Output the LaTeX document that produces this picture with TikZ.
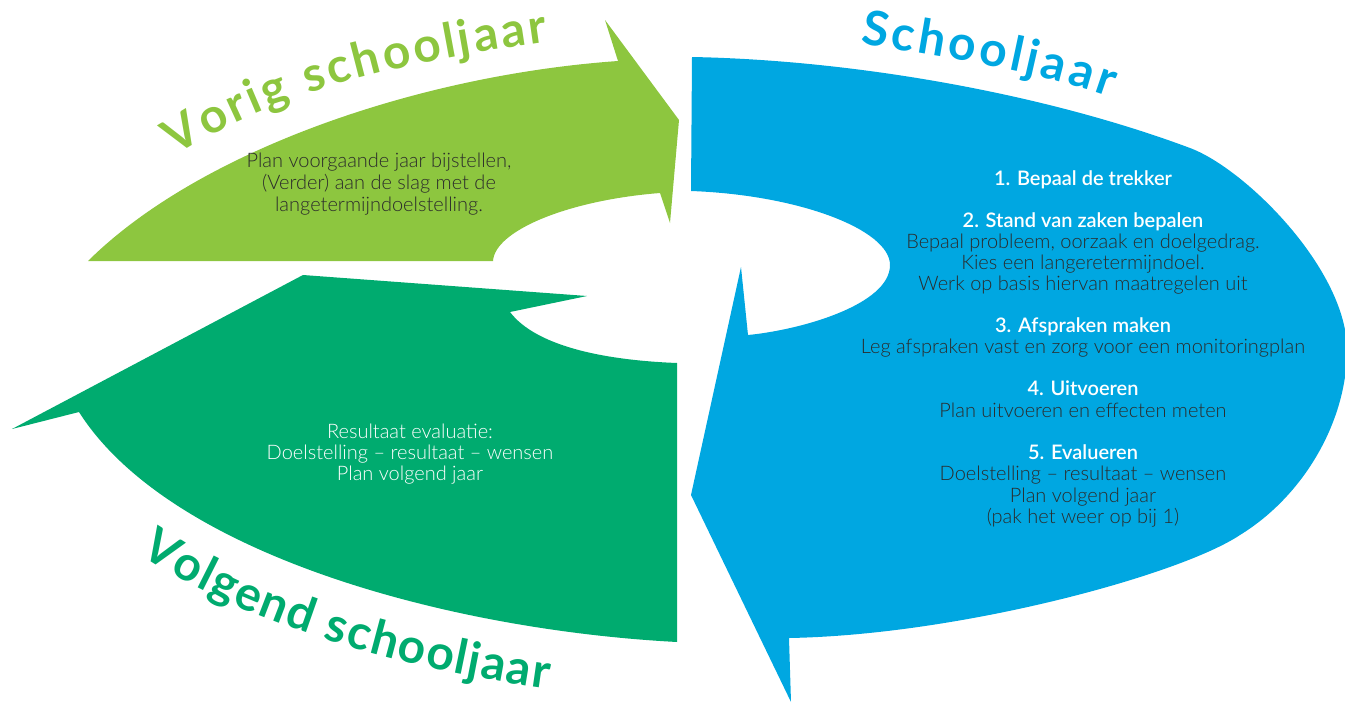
\documentclass[tikz,border=0pt]{standalone}
\usepackage{fontspec}
\setmainfont{Lato}
\newfontfamily\lightfont{Lato Light}
\newfontfamily\semifont{Lato Semibold}
\usetikzlibrary{decorations.text}
\definecolor{lgreen}{HTML}{8DC63F}
\definecolor{dgreen}{HTML}{00AB6F}
\definecolor{sblue}{HTML}{00A7E1}
\definecolor{txt}{HTML}{2B2B2B}
\newcommand{\headfont}{\fontsize{48}{48}\selectfont\bfseries}
\begin{document}
\begin{tikzpicture}[x=1pt,y=-1pt,
  body/.style={font=\lightfont\fontsize{20}{21}\selectfont, text=txt, anchor=base, inner sep=0pt},
  head/.style={body, font=\semifont\fontsize{20}{21}\selectfont, text=white},
  wbody/.style={body, text=white},
  curved/.style={decorate, decoration={text along path, text align={fit to path}, text={#1}}}]
\useasboundingbox (0,0) rectangle (1345,702);

% light green arrow (Vorig schooljaar)
\fill[lgreen] (88,261) .. controls (200,150) and (420,75) .. (618,61) -- (605,20) -- (679,120) -- (670,223) -- (660,193) .. controls (570,200) and (495,230) .. (493,261) -- cycle;

% dark green arrow (Volgend schooljaar)
\fill[dgreen] (303,275) -- (587,296) -- (510,312) .. controls (535,345) and (600,360) .. (677,363) -- (677,642) .. controls (450,630) and (170,555) .. (79,412) -- (12,429) -- cycle;

% blue arrow (Schooljaar)
\fill[sblue] (692,57) .. controls (850,60) and (1040,92) .. (1190,148) .. controls (1246,169) and (1347,270) .. (1347,350) .. controls (1347,420) and (1305,495) .. (1240,535) .. controls (1180,575) and (960,635) .. (789,638) -- (791,702) -- (691,495) -- (741,267) -- (748,335) .. controls (800,330) and (890,305) .. (890,265) .. controls (890,230) and (800,195) .. (691,191) -- cycle;

% curved titles
\path[curved={|\headfont\color{lgreen}|Vorig schooljaar}] (176,156) .. controls (284,86) and (419,60) .. (548,42);
\path[curved={|\headfont\color{sblue}|Schooljaar}] (860,43) .. controls (940,57) and (1035,70) .. (1110,97);
\path[curved={|\headfont\color{dgreen}|Volgend schooljaar}] (140,554) .. controls (246,627) and (417,671) .. (548,689);

% light green text
\node[body] (v1) at (379,167) {Plan voorgaande jaar bijstellen,};
\node[body] (v2) at (379,189) {(Verder) aan de slag met de};
\node[body] (v3) at (379,211) {langetermijndoelstelling.};

% dark green text
\node[wbody] (n1) at (410,438) {Resultaat evaluatie:};
\node[wbody] (n2) at (410,459) {Doelstelling – resultaat – wensen};
\node[wbody] (n3) at (410,480) {Plan volgend jaar};

% blue text
\node[head] (s1)  at (1083,185) {1. Bepaal de trekker};
\node[head] (s2)  at (1083,227) {2. Stand van zaken bepalen};
\node[body] (s2a) at (1083,248) {Bepaal probleem, oorzaak en doelgedrag.};
\node[body] (s2b) at (1083,269) {Kies een langeretermijndoel.};
\node[body] (s2c) at (1083,290) {Werk op basis hiervan maatregelen uit};
\node[head] (s3)  at (1083,332) {3. Afspraken maken};
\node[body] (s3a) at (1083,353) {Leg afspraken vast en zorg voor een monitoringplan};
\node[head] (s4)  at (1083,395) {4. Uitvoeren};
\node[body] (s4a) at (1083,417) {Plan uitvoeren en effecten meten};
\node[head] (s5)  at (1083,459) {5. Evalueren};
\node[body] (s5a) at (1083,480) {Doelstelling – resultaat – wensen};
\node[body] (s5b) at (1083,502) {Plan volgend jaar};
\node[body] (s5c) at (1083,523) {(pak het weer op bij 1)};
\end{tikzpicture}
\end{document}
